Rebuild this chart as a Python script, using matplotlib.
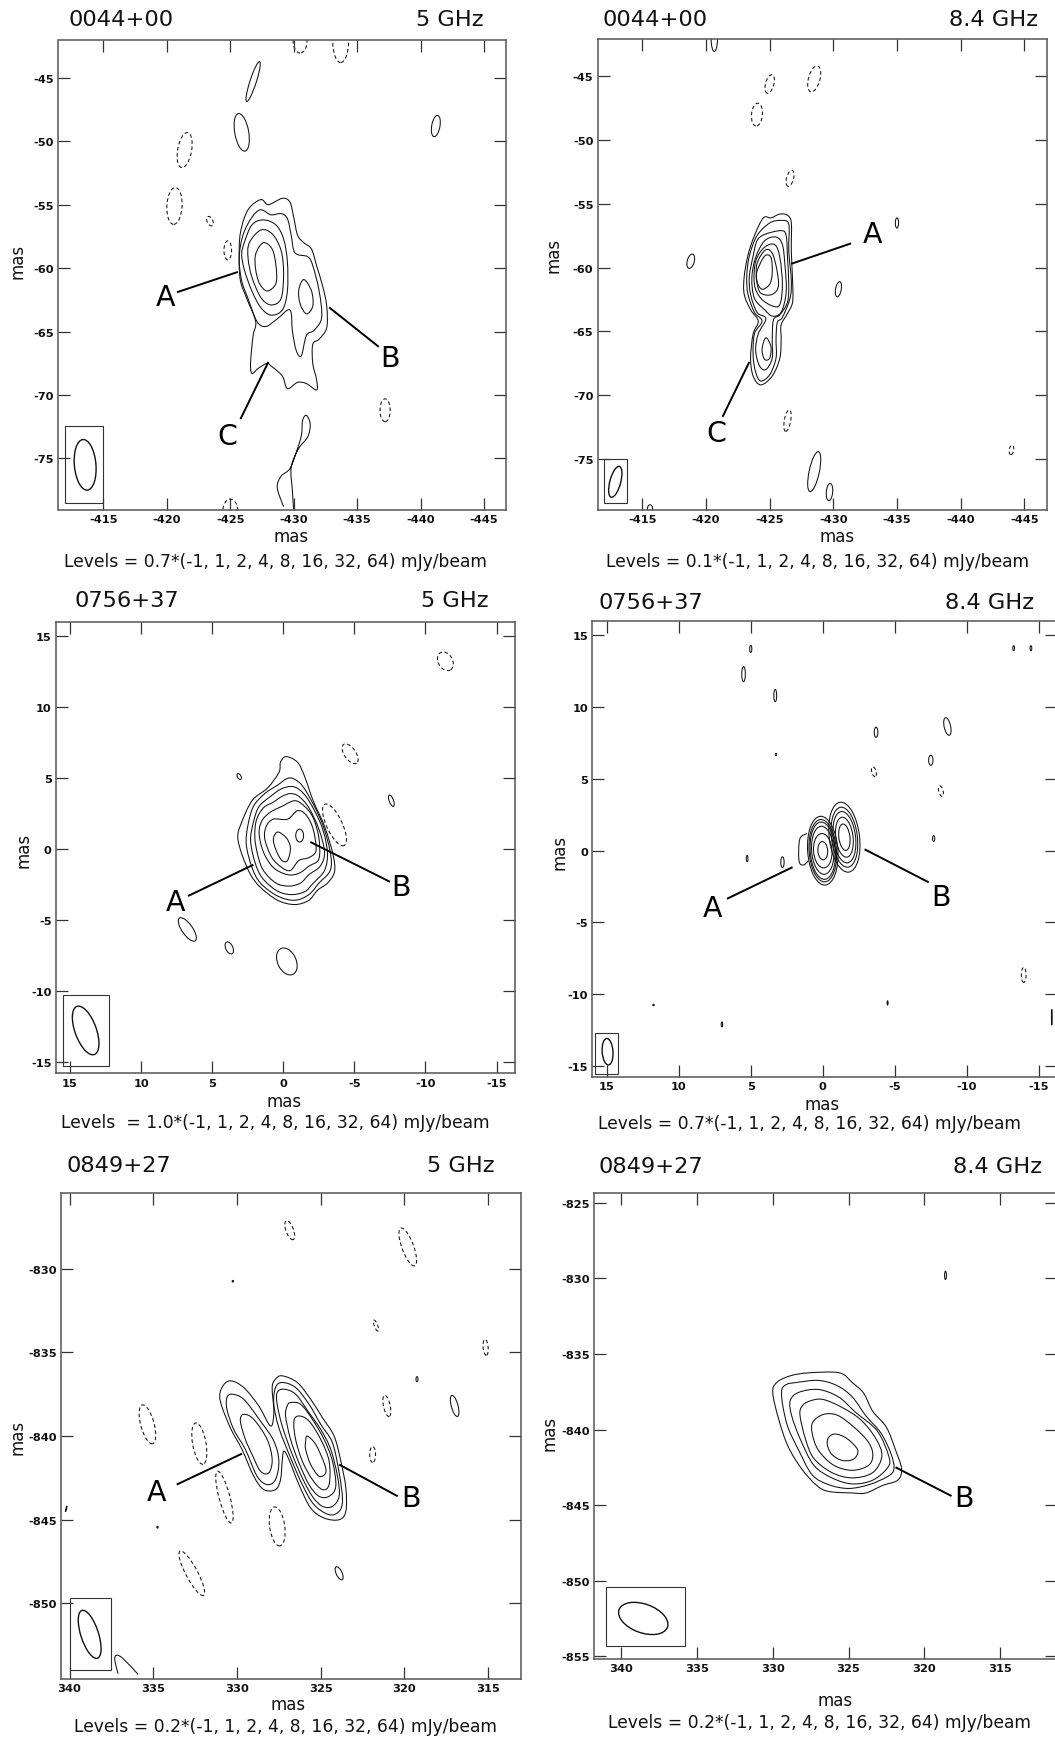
"""VLBI contour maps for three sources at 5 and 8.4 GHz (six panels)."""
import numpy as np
import matplotlib

matplotlib.use("Agg")
import matplotlib.pyplot as plt
from matplotlib.patches import Ellipse, PathPatch, Rectangle
from matplotlib.path import Path
from matplotlib.ticker import FormatStrFormatter

W, H = 1055, 1740
INK = "#111111"
EDGE = "#555555"

# ---------- 0044+00, 5 GHz (x, y in mas) ----------
S1_SOLID = [
    [(-427.4, -54.6), (-428.0, -55.0), (-429.1, -54.5), (-429.7, -54.8), (-430.0, -56.0), (-430.3, -57.4),
     (-430.8, -58.0), (-431.4, -58.5), (-431.8, -59.8), (-432.3, -61.5), (-432.6, -63.0), (-432.6, -64.7),
     (-432.0, -65.6), (-431.5, -66.0), (-431.5, -67.5), (-431.8, -68.8), (-431.8, -69.6), (-431.0, -69.1),
     (-430.3, -69.0), (-429.5, -69.5), (-429.1, -68.5), (-428.2, -67.7), (-427.9, -67.5), (-427.2, -67.9),
     (-426.7, -68.3), (-426.6, -67.4), (-426.8, -65.3), (-427.0, -64.2), (-426.3, -62.4), (-425.8, -61.0),
     (-425.7, -59.2), (-425.8, -57.2), (-426.4, -55.4)],
    [(-426.0, -57.4), (-426.7, -56.0), (-427.4, -55.4), (-428.2, -55.8), (-429.0, -55.7), (-429.5, -56.1),
     (-429.8, -57.4), (-430.1, -58.8), (-431.1, -59.1), (-431.5, -59.8), (-432.0, -61.8), (-432.2, -63.9),
     (-431.6, -64.9), (-431.0, -65.3), (-430.6, -66.9), (-430.2, -66.5), (-429.9, -65.0), (-429.7, -63.3),
     (-428.7, -64.0), (-427.8, -64.6), (-427.1, -64.2), (-426.4, -62.4), (-425.9, -61.0), (-425.7, -59.2)],
    [(-426.1, -58.0), (-426.7, -56.6), (-427.6, -56.2), (-428.6, -56.6), (-429.2, -57.7), (-429.5, -59.5),
     (-429.5, -61.8), (-429.1, -63.3), (-428.2, -63.7), (-427.4, -63.1), (-426.7, -61.8), (-426.1, -60.1),
     (-425.9, -58.9)],
    [(-426.5, -58.0), (-427.4, -57.0), (-428.3, -57.3), (-429.0, -58.6), (-429.2, -60.4), (-429.0, -62.4),
     (-428.2, -62.9), (-427.4, -62.3), (-426.7, -60.7), (-426.4, -59.2)],
    [(-427.0, -58.9), (-427.6, -58.0), (-428.3, -58.5), (-428.6, -59.8), (-428.6, -61.2), (-427.9, -61.8),
     (-427.3, -61.2), (-427.0, -60.1)],
    [(-430.8, -60.9), (-431.4, -61.8), (-431.5, -63.0), (-431.0, -63.6), (-430.5, -62.8), (-430.4, -61.7)],
]
S1_OPEN = [
    [(-429.2, -78.8), (-428.7, -77.3), (-429.0, -76.4), (-429.7, -75.8), (-430.2, -74.5), (-430.6, -73.2),
     (-430.7, -72.0), (-431.0, -71.6), (-431.3, -72.3), (-431.1, -73.3), (-430.4, -74.2), (-429.8, -75.7),
     (-429.9, -77.6), (-430.0, -79.2)],
]
# blobs: x, y, width, height, tilt
S1_BLOBS = [(-426.8, -45.3, 0.5, 3.3, 18), (-425.9, -49.3, 1.1, 3.0, -10), (-441.2, -48.8, 0.65, 1.7, 10)]
S1_NEG = [(-430.5, -42.1, 1.1, 1.9, 0), (-433.7, -42.1, 1.25, 3.4, 0), (-421.4, -50.7, 1.1, 2.8, 10),
          (-420.6, -55.1, 1.2, 2.9, 3), (-423.4, -56.3, 0.45, 0.8, -25), (-424.8, -58.6, 0.6, 1.5, 0),
          (-437.2, -71.2, 0.8, 1.8, 0), (-425.0, -79.2, 1.2, 2.0, 0)]
S1_BEAM = (-413.56, -75.5, 1.7, 4.0, -5)
S1_BOX = (-411.96, -78.5, -415.0, -72.46)
S1_NOTES = [("A", -425.6, -60.3, -420.8, -61.9, -419.9, -62.3), ("B", -432.8, -63.1, -436.7, -66.2, -437.6, -67.1),
            ("C", -428.0, -67.4, -425.8, -71.9, -424.8, -73.2)]

# ---------- 0044+00, 8.4 GHz ----------
S2_SOLID = [
    [(-424.5, -56.1), (-425.1, -56.1), (-425.8, -55.8), (-426.4, -55.9), (-426.7, -56.5), (-426.7, -58.7),
     (-426.8, -61.0), (-426.8, -62.7), (-426.4, -63.6), (-425.9, -64.5), (-425.9, -65.6), (-425.8, -67.1),
     (-425.2, -68.5), (-424.3, -69.2), (-423.7, -68.5), (-423.5, -67.1), (-423.7, -65.2), (-424.1, -64.2),
     (-423.5, -63.3), (-423.0, -62.1), (-423.0, -60.7), (-423.3, -59.0), (-423.8, -57.5)],
    [(-425.0, -56.5), (-425.9, -56.3), (-426.5, -56.6), (-426.5, -58.7), (-426.7, -61.0), (-426.6, -62.4),
     (-426.0, -63.9), (-425.6, -64.3), (-425.5, -65.6), (-425.5, -67.1), (-425.0, -68.4), (-424.3, -68.9),
     (-423.9, -68.2), (-423.7, -66.9), (-423.8, -65.2), (-424.4, -64.2), (-423.8, -63.5), (-423.3, -62.1),
     (-423.2, -60.7), (-423.4, -59.1), (-424.0, -57.5)],
    [(-424.6, -57.4), (-425.9, -57.1), (-426.3, -57.5), (-426.4, -59.2), (-426.5, -61.3), (-426.4, -62.7),
     (-425.8, -63.7), (-425.3, -64.1), (-425.2, -65.6), (-425.2, -67.1), (-424.7, -68.0), (-424.2, -67.7),
     (-423.9, -66.5), (-424.1, -65.2), (-424.7, -64.0), (-424.0, -63.5), (-423.5, -62.1), (-423.4, -60.7),
     (-423.7, -59.1), (-424.0, -57.9)],
    [(-424.6, -57.9), (-425.5, -57.6), (-426.0, -58.2), (-426.2, -59.8), (-426.3, -61.9), (-425.9, -63.5),
     (-425.2, -63.8), (-424.6, -63.3), (-423.8, -62.4), (-423.6, -60.8), (-423.9, -59.2)],
    [(-424.6, -58.4), (-425.4, -58.2), (-425.8, -59.2), (-426.0, -61.3), (-425.8, -62.9), (-425.2, -63.0),
     (-424.3, -62.4), (-423.8, -61.3), (-423.9, -59.5)],
    [(-424.7, -58.6), (-425.3, -59.1), (-425.7, -61.3), (-425.2, -62.1), (-424.3, -62.0), (-424.0, -61.1),
     (-424.0, -59.7)],
    [(-424.6, -59.1), (-425.1, -59.2), (-425.2, -60.4), (-425.0, -61.3), (-424.4, -61.7), (-424.0, -61.1),
     (-424.0, -60.3)],
    [(-424.7, -65.5), (-425.1, -66.2), (-425.0, -67.1), (-424.6, -67.2), (-424.4, -66.4)],
]
S2_OPEN = []
S2_BLOBS = [(-418.8, -59.5, 0.55, 1.15, 15), (-430.4, -61.7, 0.45, 1.2, 10), (-435.0, -56.5, 0.25, 0.8, 0),
            (-428.5, -76.0, 0.8, 3.2, 12), (-429.7, -77.6, 0.5, 1.35, 5), (-420.65, -42.04, 0.5, 2.0, 0),
            (-415.6, -78.9, 0.4, 0.6, 0)]
S2_NEG = [(-425.0, -45.6, 0.65, 1.5, 15), (-428.5, -45.2, 0.9, 2.1, 15), (-424.0, -48.0, 0.85, 1.8, 5),
          (-426.6, -53.0, 0.55, 1.3, 15), (-426.4, -72.0, 0.5, 1.7, 10), (-444.0, -74.3, 0.35, 0.75, 10)]
S2_BEAM = (-412.87, -76.8, 0.85, 2.5, 15)
S2_BOX = (-412.0, -78.48, -413.76, -75.0)
S2_NOTES = [("A", -426.7, -59.7, -431.4, -58.1, -433.1, -57.4), ("C", -423.4, -67.4, -421.3, -71.7, -420.8, -73.0)]

# ---------- 0756+37, 5 GHz ----------
S3_SOLID = [
    [(-0.2, 6.5), (-1.0, 6.1), (-1.5, 5.1), (-2.1, 3.4), (-2.9, 1.6), (-3.5, -0.4), (-3.6, -1.6), (-3.1, -2.4),
     (-2.4, -2.9), (-1.8, -3.6), (-0.8, -3.9), (0.4, -3.6), (1.6, -2.7), (2.3, -1.8), (2.9, -0.4), (3.2, 0.8),
     (3.0, 1.7), (2.2, 3.4), (1.1, 4.3), (0.3, 5.4), (0.2, 6.1)],
    [(-0.4, 5.0), (-1.1, 4.7), (-1.7, 3.9), (-2.7, 1.9), (-3.3, -0.2), (-3.3, -1.5), (-2.5, -2.4), (-1.8, -3.2),
     (-0.8, -3.6), (0.4, -3.3), (1.6, -2.4), (2.2, -1.3), (2.6, 0.3), (2.5, 1.6), (2.1, 3.0), (1.3, 3.9), (0.4, 4.5)],
    [(-0.5, 4.4), (-1.1, 4.2), (-1.8, 3.4), (-2.7, 1.6), (-3.1, -0.2), (-2.9, -1.5), (-2.1, -2.4), (-1.5, -3.0),
     (-0.5, -3.2), (0.5, -2.9), (1.5, -2.0), (2.0, -0.9), (2.3, 0.6), (2.1, 1.9), (1.7, 3.0), (0.9, 3.7), (0.2, 4.2)],
    [(-0.5, 3.9), (-1.1, 3.7), (-1.8, 2.9), (-2.5, 1.4), (-2.9, -0.2), (-2.6, -1.2), (-1.8, -1.8), (-1.2, -2.4),
     (-0.4, -2.6), (0.5, -2.4), (1.4, -1.5), (1.8, -0.4), (2.0, 0.8), (1.9, 2.0), (1.4, 2.9), (0.7, 3.3), (0.1, 3.7)],
    [(-0.8, 3.4), (-1.5, 3.0), (-2.1, 2.2), (-2.5, 0.8), (-2.5, -0.7), (-1.8, -1.2), (-1.1, -1.7), (-0.3, -1.8),
     (0.7, -1.3), (1.4, -0.2), (1.7, 1.1), (1.5, 2.0), (0.9, 2.6), (0.1, 3.0)],
    [(-0.3, 2.1), (-1.0, 2.7), (-1.6, 2.4), (-2.1, 1.4), (-2.3, -0.1), (-1.8, -0.6), (-1.1, -0.8), (-0.5, -1.5),
     (0.1, -1.3), (0.8, -0.6), (1.3, 0.7), (1.2, 1.6), (0.7, 2.1)],
    [(0.4, 1.2), (-0.2, 0.8), (-0.5, 0.1), (-0.3, -0.8), (0.1, -0.8), (0.5, -0.1), (0.7, 0.7)],
]
S3_OPEN = []
S3_BLOBS = [(-1.15, 0.95, 0.55, 0.9, 0), (3.1, 5.1, 0.25, 0.45, -30), (-7.6, 3.4, 0.3, 0.85, -20),
            (6.75, -5.65, 0.75, 1.95, -35), (3.8, -6.95, 0.5, 0.9, -25), (-0.25, -7.9, 1.3, 2.0, -25)]
S3_NEG = [(-11.4, 13.2, 1.0, 1.4, -30), (-4.7, 6.7, 0.8, 1.6, -35), (-3.6, 1.7, 1.1, 3.2, -25)]
S3_BEAM = (13.9, -12.75, 1.5, 3.6, -20)
S3_BOX = (15.5, -15.26, 12.27, -10.25)
S3_NOTES = [("A", 2.1, -1.1, 6.7, -3.3, 7.6, -3.75), ("B", -1.9, 0.5, -7.5, -2.3, -8.25, -2.7)]

# ---------- 0756+37, 8.4 GHz ----------
S4_SOLID = []
S4_OPEN = [
    [(1.1, 1.2), (1.6, 0.8), (1.65, -0.7), (1.35, -1.0), (1.0, -0.7)],
]
S4_BLOBS = [
    (0.0, 0.0, 0.68, 1.27, -4), (0.0, 0.0, 1.28, 2.4, -4), (0.0, 0.03, 1.55, 3.35, -4), (0.0, 0.0, 1.75, 4.0, -4),
    (0.0, 0.0, 1.9, 4.35, -4), (0.0, 0.0, 2.1, 4.8, -4),
    (-1.5, 0.94, 0.77, 1.85, -7), (-1.5, 0.94, 1.2, 2.8, -7), (-1.5, 0.94, 1.55, 3.6, -7), (-1.5, 0.94, 1.8, 4.2, -7),
    (-1.5, 0.94, 2.1, 4.9, -7),
    (5.0, 14.05, 0.15, 0.5, 0), (5.5, 12.3, 0.25, 1.05, 0), (3.3, 10.8, 0.2, 0.85, 0), (3.25, 6.7, 0.1, 0.15, 0),
    (-3.7, 8.25, 0.25, 0.7, 0), (-8.65, 8.65, 0.45, 1.25, -12), (-7.5, 6.3, 0.3, 0.7, 0), (-7.7, 0.85, 0.15, 0.4, 0),
    (-13.25, 14.1, 0.12, 0.35, 0), (-14.45, 14.1, 0.12, 0.35, 0), (5.25, -0.55, 0.12, 0.45, 0),
    (2.8, -0.8, 0.23, 0.75, 0), (-4.5, -10.6, 0.07, 0.3, 0), (11.75, -10.75, 0.1, 0.1, 0), (7.0, -12.1, 0.1, 0.35, 0),
    (-15.9, -11.6, 0.05, 1.1, 0),
]
S4_NEG = [(-3.55, 5.5, 0.3, 0.7, -15), (-8.2, 4.15, 0.3, 0.75, -15), (-13.95, -8.65, 0.33, 1.05, 0)]
S4_BEAM = (14.94, -14.0, 0.75, 1.85, -4)
S4_BOX = (15.78, -15.52, 14.24, -12.73)
S4_NOTES = [("A", 2.1, -1.15, 6.65, -3.35, 7.65, -4.0), ("B", -2.9, 0.1, -7.35, -2.2, -8.2, -3.25)]

# ---------- 0849+27, 5 GHz ----------
S5_SOLID = [
    [(327.3, -836.4), (326.4, -836.8), (325.6, -837.8), (324.9, -838.9), (324.2, -840.0), (323.8, -841.5),
     (323.5, -843.1), (323.5, -844.5), (323.9, -845.0), (324.8, -844.9), (325.6, -844.3), (326.3, -842.9),
     (326.9, -841.4), (327.2, -840.9), (327.3, -841.5), (327.4, -842.6), (327.7, -843.2), (328.4, -843.2),
     (329.0, -842.4), (329.7, -840.8), (330.4, -839.5), (331.0, -837.9), (330.9, -837.1), (330.4, -836.7),
     (329.6, -837.1), (328.7, -838.2), (328.0, -839.4), (327.8, -838.6), (327.9, -837.1), (327.7, -836.6)],
    [(330.3, -837.5), (329.6, -837.8), (328.6, -839.1), (327.8, -840.3), (327.5, -841.5), (327.7, -842.6),
     (328.2, -842.9), (328.8, -842.4), (329.5, -840.8), (330.2, -839.6), (330.6, -838.4), (330.6, -837.7)],
    [(329.6, -838.7), (329.0, -839.0), (328.2, -840.2), (327.9, -841.4), (328.1, -842.2), (328.6, -842.1),
     (329.1, -841.1), (329.5, -840.2), (329.8, -839.1)],
    [(327.3, -836.8), (326.5, -837.1), (325.7, -838.1), (325.0, -839.3), (324.3, -840.4), (323.9, -842.2),
     (323.7, -843.8), (323.9, -844.5), (324.5, -844.7), (325.4, -844.1), (326.1, -842.9), (326.8, -841.3),
     (327.5, -839.5), (327.8, -838.1), (327.7, -837.1)],
    [(327.2, -837.2), (326.5, -837.5), (325.7, -838.6), (325.0, -839.6), (324.4, -840.8), (324.0, -842.4),
     (323.9, -843.6), (324.3, -844.2), (324.9, -844.2), (325.5, -843.6), (326.1, -842.5), (326.7, -841.1),
     (327.3, -839.4), (327.6, -838.1), (327.6, -837.4)],
    [(326.8, -838.0), (326.2, -838.1), (325.5, -839.0), (324.8, -840.2), (324.3, -841.5), (324.1, -843.0),
     (324.5, -843.6), (325.1, -843.6), (325.7, -842.9), (326.3, -841.6), (326.8, -840.2), (327.1, -838.8),
     (327.0, -838.2)],
    [(326.3, -838.8), (325.7, -839.1), (325.0, -840.2), (324.5, -841.5), (324.5, -842.9), (324.9, -843.2),
     (325.5, -842.6), (326.1, -841.5), (326.5, -840.2), (326.6, -839.1)],
    [(325.8, -840.0), (325.3, -840.5), (324.8, -841.6), (324.7, -842.2), (325.1, -842.4), (325.6, -841.7),
     (325.9, -840.8), (325.9, -840.3)],
]
S5_OPEN = [[(335.9, -854.25), (336.8, -853.3), (337.2, -853.1), (337.3, -853.4), (337.1, -854.2)]]
S5_BLOBS = [(317.0, -838.2, 0.4, 1.3, -15), (323.9, -848.2, 0.35, 0.85, -25), (319.25, -836.6, 0.12, 0.3, 0),
            (330.25, -830.75, 0.08, 0.1, 0), (334.75, -845.45, 0.08, 0.1, 0), (340.2, -844.35, 0.04, 0.35, 15)]
S5_NEG = [(326.85, -827.7, 0.45, 1.2, -20), (319.8, -828.7, 0.7, 2.4, -20), (321.7, -833.4, 0.2, 0.7, -20),
          (315.15, -834.7, 0.3, 0.95, -5), (321.05, -838.2, 0.4, 1.3, -12), (321.9, -841.1, 0.35, 0.95, 0),
          (335.35, -839.3, 0.8, 2.4, -15), (332.25, -840.45, 0.8, 2.5, -10), (330.75, -843.65, 0.65, 3.2, -15),
          (327.6, -845.4, 0.9, 2.35, -8), (332.7, -848.2, 0.7, 3.0, -28)]
S5_BEAM = (338.8, -851.85, 1.05, 3.0, -18)
S5_BOX = (340.0, -854.0, 337.5, -849.7)
S5_NOTES = [("A", 329.7, -841.05, 333.6, -842.9, 334.8, -843.35), ("B", 323.9, -841.7, 320.4, -843.6, 319.6, -843.7)]

# ---------- 0849+27, 8.4 GHz ----------
S6_SOLID = [
    [(328.85, -836.45), (327.6, -836.25), (325.6, -836.25), (324.75, -836.9), (324.0, -837.6), (323.4, -838.8),
     (322.5, -839.85), (321.9, -841.35), (321.5, -842.6), (321.75, -843.35), (322.75, -843.7), (323.85, -844.2),
     (324.75, -844.2), (326.3, -844.1), (327.1, -843.7), (328.1, -842.6), (329.0, -841.1), (329.6, -839.35),
     (330.0, -837.6), (329.75, -836.9)],
    [(328.5, -836.9), (327.0, -836.75), (325.75, -837.1), (324.75, -837.85), (323.85, -839.1), (322.85, -840.25),
     (322.2, -841.6), (322.0, -842.6), (322.4, -843.1), (323.65, -843.65), (325.0, -843.9), (326.3, -843.65),
     (327.4, -843.0), (328.3, -841.35), (329.0, -839.85), (329.35, -838.35), (329.4, -837.35), (329.05, -837.0)],
    [(328.3, -837.55), (327.0, -837.35), (325.65, -837.85), (324.55, -838.85), (323.1, -840.1), (322.35, -841.75),
     (322.4, -842.5), (323.4, -843.35), (324.75, -843.6), (326.1, -843.2), (327.3, -842.35), (328.2, -840.6),
     (328.75, -839.1), (328.85, -838.1)],
    [(327.65, -838.15), (326.75, -838.0), (325.5, -838.5), (324.2, -839.35), (323.2, -840.6), (322.8, -841.75),
     (323.4, -842.85), (324.75, -843.2), (326.1, -842.85), (327.3, -841.9), (327.85, -840.6), (328.2, -839.1),
     (328.1, -838.5)],
    [(326.65, -839.0), (325.75, -839.05), (324.75, -839.75), (323.75, -840.75), (323.4, -841.6), (323.65, -842.35),
     (324.75, -842.7), (326.0, -842.35), (327.0, -841.35), (327.4, -840.25), (327.35, -839.5)],
    [(325.85, -840.3), (325.1, -840.6), (324.4, -841.35), (324.65, -841.95), (325.4, -842.05), (326.1, -841.65),
     (326.4, -841.0), (326.3, -840.5)],
]
S6_OPEN = []
S6_BLOBS = [(318.6, -829.8, 0.12, 0.55, 0)]
S6_NEG = []
S6_BEAM = (338.55, -852.5, 3.4, 1.9, 20)
S6_BOX = (341.0, -854.35, 335.8, -850.4)
S6_NOTES = [("B", 321.9, -842.5, 318.2, -844.4, 317.4, -844.5)]

SOURCES = ["0044+00", "0044+00", "0756+37", "0756+37", "0849+27", "0849+27"]
BANDS = ["5 GHz", "8.4 GHz", "5 GHz", "8.4 GHz", "5 GHz", "8.4 GHz"]
LEVELS = ["Levels = 0.7*(-1, 1, 2, 4, 8, 16, 32, 64) mJy/beam",
          "Levels = 0.1*(-1, 1, 2, 4, 8, 16, 32, 64) mJy/beam",
          "Levels  = 1.0*(-1, 1, 2, 4, 8, 16, 32, 64) mJy/beam",
          "Levels = 0.7*(-1, 1, 2, 4, 8, 16, 32, 64) mJy/beam",
          "Levels = 0.2*(-1, 1, 2, 4, 8, 16, 32, 64) mJy/beam",
          "Levels = 0.2*(-1, 1, 2, 4, 8, 16, 32, 64) mJy/beam"]
X_TICKS_1 = [-415, -420, -425, -430, -435, -440, -445]
Y_TICKS_1 = [-45, -50, -55, -60, -65, -70, -75]
TICKS_2 = [15, 10, 5, 0, -5, -10, -15]
X_TICKS_3A = [340, 335, 330, 325, 320, 315]
Y_TICKS_3A = [-830, -835, -840, -845, -850]
Y_TICKS_3B = [-825, -830, -835, -840, -845, -850, -855]


def spline(pts, closed=True):
    """Catmull-Rom through the read points, as Bezier segments (drawing only)."""
    pts = np.asarray(pts, dtype=float)
    n = len(pts)
    verts = [pts[0]]
    codes = [Path.MOVETO]
    for i in range(n if closed else n - 1):
        if closed:
            p0, p1, p2, p3 = pts[(i - 1) % n], pts[i], pts[(i + 1) % n], pts[(i + 2) % n]
        else:
            p0, p1, p2, p3 = pts[max(i - 1, 0)], pts[i], pts[i + 1], pts[min(i + 2, n - 1)]
        verts += [p1 + (p2 - p0) / 6, p2 - (p3 - p1) / 6, p2]
        codes += [Path.CURVE4] * 3
    return Path(verts, codes)


def blob(ax, spec, **style):
    x, y, w, h, tilt = spec
    ax.add_patch(Ellipse((x, y), w, h, angle=tilt, fill=False, edgecolor=INK, **style))


def panel(fig, rect, xlim, ylim, xticks, yticks, solid, opened, blobs, neg, beam, bx, notes):
    left, top, right, bottom = rect
    ax = fig.add_axes([left / W, 1 - bottom / H, (right - left) / W, (bottom - top) / H])
    ax.set_xlim(*xlim)
    ax.set_ylim(*ylim)
    ax.set_xticks(xticks)
    ax.set_yticks(yticks)
    ax.xaxis.set_major_formatter(FormatStrFormatter("%d"))
    ax.yaxis.set_major_formatter(FormatStrFormatter("%d"))
    ax.tick_params(direction="in", length=8.6, width=0.9, color="#333333", top=True, right=True,
                   labelsize=8.2, pad=3.0, labelcolor=INK)
    for lab in ax.get_xticklabels() + ax.get_yticklabels():
        lab.set_fontweight("bold")
    for sp in ax.spines.values():
        sp.set_color(EDGE)
        sp.set_linewidth(1.1)

    for pts in solid:
        ax.add_patch(PathPatch(spline(pts), fill=False, edgecolor=INK, lw=0.75))
    for pts in opened:
        ax.add_patch(PathPatch(spline(pts, closed=False), fill=False, edgecolor=INK, lw=0.75))
    for spec in blobs:
        blob(ax, spec, lw=0.75)
    for spec in neg:
        blob(ax, spec, lw=0.75, linestyle=(0, (3.5, 2.5)))
    blob(ax, beam, lw=1.0)
    ax.add_patch(Rectangle((bx[0], bx[1]), bx[2] - bx[0], bx[3] - bx[1], fill=False, edgecolor="#333333", lw=0.8))
    for label, x0, y0, x1, y1, tx, ty in notes:
        ax.plot([x0, x1], [y0, y1], color="black", lw=1.4, solid_capstyle="butt")
        ax.text(tx, ty, label, fontsize=20.5, ha="center", va="center", color="black")
    return ax


def caption(fig, px, py, s, ha="center", size=12, rotation=0):
    fig.text(px / W, 1 - py / H, s, ha=ha, va="center", fontsize=size, color=INK, rotation=rotation)


fig = plt.figure(figsize=(W / 100, H / 100), dpi=100, facecolor="white")

panel(fig, (58.5, 40.7, 506, 510.5), (-411.46, -446.73), (-79.02, -42.0), X_TICKS_1, Y_TICKS_1,
      S1_SOLID, S1_OPEN, S1_BLOBS, S1_NEG, S1_BEAM, S1_BOX, S1_NOTES)
panel(fig, (597.6, 39.6, 1047, 510.5), (-411.48, -446.79), (-78.97, -42.04), X_TICKS_1, Y_TICKS_1,
      S2_SOLID, S2_OPEN, S2_BLOBS, S2_NEG, S2_BEAM, S2_BOX, S2_NOTES)
panel(fig, (55.8, 622.9, 514.5, 1074.4), (16.0, -16.26), (-15.77, 15.97), TICKS_2, TICKS_2,
      S3_SOLID, S3_OPEN, S3_BLOBS, S3_NEG, S3_BEAM, S3_BOX, S3_NOTES)
panel(fig, (592.3, 621.8, 1057, 1078), (16.0, -16.26), (-15.76, 16.01), TICKS_2, TICKS_2,
      S4_SOLID, S4_OPEN, S4_BLOBS, S4_NEG, S4_BEAM, S4_BOX, S4_NOTES)
panel(fig, (61.2, 1194.4, 521.3, 1679.7), (340.5, 313.02), (-854.5, -825.5), X_TICKS_3A, Y_TICKS_3A,
      S5_SOLID, S5_OPEN, S5_BLOBS, S5_NEG, S5_BEAM, S5_BOX, S5_NOTES)
panel(fig, (594, 1194.4, 1057, 1659.8), (341.8, 311.24), (-855.17, -824.38), X_TICKS_3A, Y_TICKS_3B,
      S6_SOLID, S6_OPEN, S6_BLOBS, S6_NEG, S6_BEAM, S6_BOX, S6_NOTES)

# title left, band right, title y, mas x/y, side mas x/y, levels centre x/y
TEXT_SPOTS = [
    (69, 483.5, 20, 290.7, 537.5, 17, 261, 275, 562),
    (602, 1038, 20, 837, 537.5, 554, 255, 817.5, 562),
    (74, 489, 601, 284, 1102, 24, 850, 275.5, 1123),
    (599, 1034.5, 603, 822, 1104.5, 559.5, 852, 810, 1124),
    (66.6, 495, 1166, 288, 1705, 17, 1437, 286, 1727),
    (598.6, 1042, 1167, 835, 1701.5, 549.4, 1433, 820, 1723),
]
for i, (tl, br, ty, mx, my, sx, sy, lx, ly) in enumerate(TEXT_SPOTS):
    caption(fig, tl, ty, SOURCES[i], ha="left", size=16.2)
    caption(fig, br, ty, BANDS[i], ha="right", size=16.2)
    caption(fig, mx, my, "mas")
    caption(fig, sx, sy, "mas", rotation=90)
    caption(fig, lx, ly, LEVELS[i], size=12.35)

fig.savefig("out.png", dpi=100, facecolor="white")
